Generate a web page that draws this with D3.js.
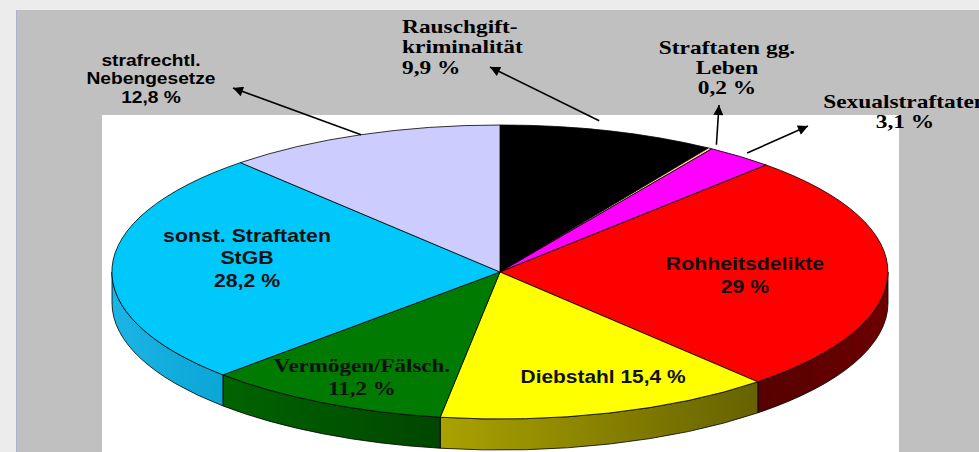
<!DOCTYPE html>
<meta charset="utf-8">
<style>

body {
  margin: 0;
  background: #ececec;
}

svg {
  display: block;
}

.slice {
  stroke: #000;
  stroke-width: .8px;
  stroke-linejoin: round;
}

.arrow {
  fill: none;
  stroke: #000;
  stroke-width: 1.6px;
}

</style>
<body>
<script src="https://cdn.jsdelivr.net/npm/d3@7"></script>
<script>

var width = 979,
    height = 452;

// data, clockwise from 12 o'clock
var categories = ["Rauschgiftkriminalität", "Straftaten gg. Leben", "Sexualstraftaten",
                  "Rohheitsdelikte", "Diebstahl", "Vermögen/Fälsch.",
                  "sonst. Straftaten StGB", "strafrechtl. Nebengesetze"];
var values = [9.9, 0.2, 3.1, 29, 15.4, 11.2, 28.2, 12.8];
var labelLines = [["Rauschgift-", "kriminalität"], ["Straftaten gg.", "Leben"], ["Sexualstraftaten"],
                  ["Rohheitsdelikte"], ["Diebstahl"], ["Vermögen/Fälsch."],
                  ["sonst. Straftaten", "StGB"], ["strafrechtl.", "Nebengesetze"]];

var colors = ["#000000", "#ffcc99", "#ff00ff", "#ff0000", "#ffff00", "#007a00", "#00c8fa", "#ccccff"];
var sideColors = [["#000", "#000"], ["#c9a070", "#c9a070"], ["#a000a0", "#a000a0"], ["#560000", "#6c0000"],
                  ["#aaa200", "#666200"], ["#006400", "#004600"], ["#1cb4e4", "#0aa6d6"], ["#9090c0", "#9090c0"]];

// label placement (layout only)
var labelLayout = [
  {x: 402, y: 33,  anchor: "start",  font: "serif", size: 18, sx: 1.3,  lh: 20.5, arrow: {f: .43, r: 1.06, to: [490, 67]}},
  {x: 727, y: 54,  anchor: "middle", font: "serif", size: 18, sx: 1.3,  lh: 20,   arrow: {f: .5, r: 1.03, to: [719, 105]}},
  {x: 905, y: 108, anchor: "middle", font: "serif", size: 18, sx: 1.3,  lh: 20.5, arrow: {f: .5, r: 1.03, to: [808, 126]}},
  {x: 745, y: 270, anchor: "middle", font: "sans",  size: 19, sx: 1.12, lh: 23},
  {x: 603, y: 383, anchor: "middle", font: "sans",  size: 19, sx: 1.1,  lh: 23, inline: true},
  {x: 362, y: 372, anchor: "middle", font: "serif", size: 18, sx: 1.28, lh: 23},
  {x: 247, y: 242, anchor: "middle", font: "sans",  size: 19, sx: 1.12, lh: 22.5},
  {x: 151, y: 66,  anchor: "middle", font: "sans",  size: 16, sx: 1.2,  lh: 18.5, arrow: {f: .5, r: 1.0, to: [233, 88]}}
];

var fonts = {serif: "'Liberation Serif', 'Times New Roman', serif",
             sans: "'Liberation Sans', Arial, sans-serif"};

// pie geometry
var cx = 500, cy = 272, rx = 388, ry = 147, depth = 31;

var fmt = function(v) { return String(v).replace(".", ",") + " %"; };

var svg = d3.select("body").append("svg")
    .attr("width", width)
    .attr("height", height);

// frame
svg.append("rect")
    .attr("x", 16).attr("y", 10)
    .attr("width", width - 16).attr("height", height - 10)
    .attr("fill", "#c0c0c0");
svg.append("line")
    .attr("x1", 16.5).attr("x2", 16.5).attr("y1", 10).attr("y2", height)
    .attr("stroke", "#aab2cc");
svg.append("rect")
    .attr("x", 102).attr("y", 115)
    .attr("width", 797).attr("height", height - 115)
    .attr("fill", "#fff");

var defs = svg.append("defs");
defs.append("marker")
    .attr("id", "head")
    .attr("viewBox", "0 0 10 10")
    .attr("refX", 10).attr("refY", 5)
    .attr("markerUnits", "userSpaceOnUse")
    .attr("markerWidth", 14).attr("markerHeight", 10)
    .attr("orient", "auto")
  .append("path")
    .attr("d", "M0,0L10,5L0,10z")
    .attr("fill", "#000");

var arcs = d3.pie().sort(null).value(function(d) { return d; })(values);

var ell = function(a, r, dy) {
  return [cx + rx * r * Math.sin(a), cy - ry * r * Math.cos(a) + (dy || 0)];
};

// side walls (front half only)
arcs.forEach(function(d, i) {
  var a0 = Math.max(d.startAngle, Math.PI / 2),
      a1 = Math.min(d.endAngle, 3 * Math.PI / 2);
  if (a0 >= a1) return;
  var p0 = ell(a0, 1), p1 = ell(a1, 1), q1 = ell(a1, 1, depth), q0 = ell(a0, 1, depth);
  var xs = [p0[0], p1[0], ell((a0 + a1) / 2, 1)[0]];
  var g = defs.append("linearGradient")
      .attr("id", "side" + i)
      .attr("gradientUnits", "userSpaceOnUse")
      .attr("x1", d3.min(xs)).attr("x2", d3.max(xs))
      .attr("y1", 0).attr("y2", 0);
  g.append("stop").attr("offset", 0).attr("stop-color", sideColors[i][0]);
  g.append("stop").attr("offset", 1).attr("stop-color", sideColors[i][1]);
  svg.append("path")
      .attr("class", "slice")
      .attr("d", "M" + p0 + "A" + rx + "," + ry + " 0 0 1 " + p1 +
                 "L" + q1 + "A" + rx + "," + ry + " 0 0 0 " + q0 + "Z")
      .attr("fill", "url(#side" + i + ")");
});

// top faces
var arc = d3.arc().innerRadius(0).outerRadius(1);
svg.append("g")
    .attr("transform", "translate(" + cx + "," + cy + ") scale(" + rx + "," + ry + ")")
  .selectAll("path")
  .data(arcs)
  .enter().append("path")
    .attr("class", "slice")
    .attr("vector-effect", "non-scaling-stroke")
    .attr("d", arc)
    .attr("fill", function(d, i) { return colors[i]; });

// arrows
arcs.forEach(function(d, i) {
  var L = labelLayout[i];
  if (!L.arrow) return;
  var from = ell(d.startAngle + L.arrow.f * (d.endAngle - d.startAngle), L.arrow.r);
  svg.append("line")
      .attr("class", "arrow")
      .attr("x1", from[0]).attr("y1", from[1])
      .attr("x2", L.arrow.to[0]).attr("y2", L.arrow.to[1])
      .attr("marker-end", "url(#head)");
});

// labels
labelLayout.forEach(function(L, i) {
  var lines = labelLines[i].slice();
  if (L.inline) lines[lines.length - 1] += " " + fmt(values[i]);
  else lines.push(fmt(values[i]));
  var t = svg.append("text")
      .attr("transform", "translate(" + L.x + "," + L.y + ") scale(" + L.sx + ",1)")
      .attr("text-anchor", L.anchor)
      .attr("font-family", fonts[L.font])
      .attr("font-weight", "bold")
      .attr("font-size", L.size)
      .attr("fill", L.arrow ? "#000" : "#111");
  lines.forEach(function(s, k) {
    t.append("tspan")
        .attr("x", 0)
        .attr("y", k * L.lh)
        .text(s);
  });
});

</script>
